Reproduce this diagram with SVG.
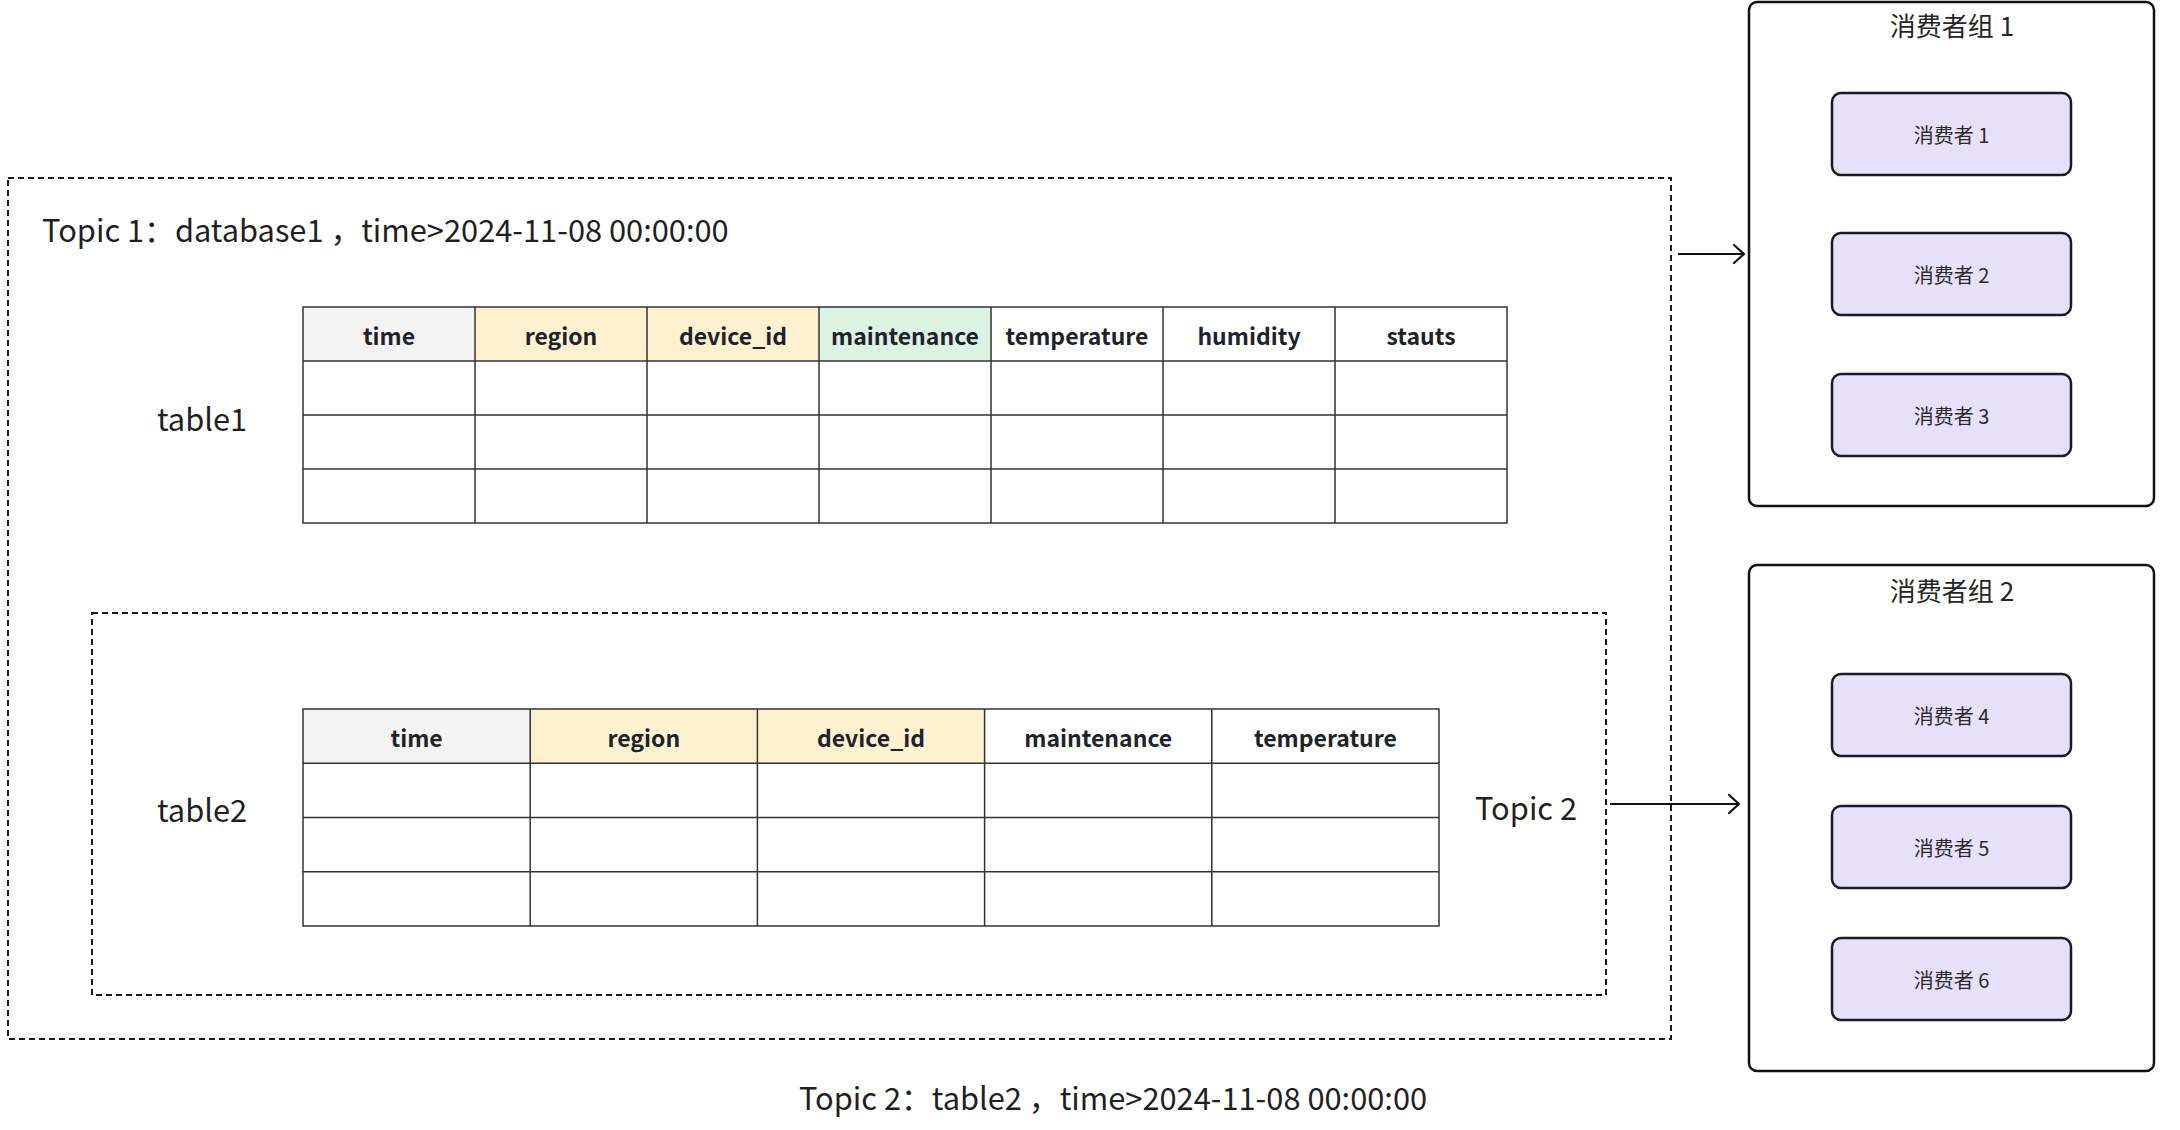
<svg xmlns="http://www.w3.org/2000/svg" width="2180" height="1130" viewBox="0 0 2180 1130">
<defs>
<marker id="arr" markerUnits="userSpaceOnUse" markerWidth="14" markerHeight="22" viewBox="0 0 14 22" refX="12" refY="11" orient="auto">
<path d="M2,2 L12,11 L2,20" fill="none" stroke="#111" stroke-width="2.2" stroke-linecap="round" stroke-linejoin="round"/>
</marker>
</defs>
<style>
text{font-family:"Noto Sans CJK SC","Noto Sans",sans-serif;fill:#1f1f1f}
.dash{fill:none;stroke:#1a1a1a;stroke-width:2;stroke-dasharray:6 4}
.lbl{font-size:30.8px}
.hd{font-size:23px;font-weight:700;text-anchor:middle;dominant-baseline:central;fill:#1f2329}
.grid{stroke:#333;stroke-width:1.5;fill:none}
.grp{fill:#fff;stroke:#111;stroke-width:2.5}
.cons{fill:#e6e0fb;stroke:#1a1a24;stroke-width:2.5}
.ct{font-size:20px;text-anchor:middle;dominant-baseline:central;fill:#2a2a2a}
.gt{font-size:26px;text-anchor:middle;dominant-baseline:central;fill:#262626}
.conn{stroke:#111;stroke-width:2;fill:none}
</style>

<g id="topic1">
<rect class="dash" x="8" y="178" width="1663" height="861"/>
<text class="lbl" x="42" y="242">Topic 1：database1 ，time&gt;2024-11-08 00:00:00</text>
</g>

<g id="table1">
<text class="lbl" x="202" y="417" text-anchor="middle" dominant-baseline="central">table1</text>
<rect x="303" y="307" width="172" height="54" fill="#f3f3f3"/>
<rect x="475" y="307" width="344" height="54" fill="#fdf1cf"/>
<rect x="819" y="307" width="172" height="54" fill="#dcf2e3"/>
<rect class="grid" x="303" y="307" width="1204" height="216"/>
<path class="grid" d="M303,361H1507M303,415H1507M303,469H1507M475,307V523M647,307V523M819,307V523M991,307V523M1163,307V523M1335,307V523"/>
<text class="hd" x="389" y="335">time</text>
<text class="hd" x="561" y="335">region</text>
<text class="hd" x="733" y="335">device_id</text>
<text class="hd" x="905" y="335">maintenance</text>
<text class="hd" x="1077" y="335">temperature</text>
<text class="hd" x="1249" y="335">humidity</text>
<text class="hd" x="1421" y="335">stauts</text>
</g>

<g id="topic2">
<rect class="dash" x="92" y="613" width="1514" height="382"/>
<text class="lbl" x="1526" y="806" text-anchor="middle" dominant-baseline="central">Topic 2</text>
<text class="lbl" x="1113" y="1096" text-anchor="middle" dominant-baseline="central">Topic 2：table2 ，time&gt;2024-11-08 00:00:00</text>
</g>

<g id="table2">
<text class="lbl" x="202" y="808" text-anchor="middle" dominant-baseline="central">table2</text>
<rect x="303" y="709" width="227.2" height="54.25" fill="#f3f3f3"/>
<rect x="530.2" y="709" width="454.4" height="54.25" fill="#fdf1cf"/>
<rect class="grid" x="303" y="709" width="1136" height="217"/>
<path class="grid" d="M303,763.25H1439M303,817.5H1439M303,871.75H1439M530.2,709V926M757.4,709V926M984.6,709V926M1211.8,709V926"/>
<text class="hd" x="416.6" y="737">time</text>
<text class="hd" x="643.8" y="737">region</text>
<text class="hd" x="871" y="737">device_id</text>
<text class="hd" x="1098.2" y="737">maintenance</text>
<text class="hd" x="1325.4" y="737">temperature</text>
</g>

<g id="group1">
<rect class="grp" x="1749" y="2" width="405" height="504" rx="8"/>
<text class="gt" x="1952" y="24">消费者组 1</text>
</g>
<g id="consumer1"><rect class="cons" x="1832" y="93" width="239" height="82" rx="9"/><text class="ct" x="1951.5" y="134">消费者 1</text></g>
<g id="consumer2"><rect class="cons" x="1832" y="233" width="239" height="82" rx="9"/><text class="ct" x="1951.5" y="274">消费者 2</text></g>
<g id="consumer3"><rect class="cons" x="1832" y="374" width="239" height="82" rx="9"/><text class="ct" x="1951.5" y="415">消费者 3</text></g>

<g id="group2">
<rect class="grp" x="1749" y="565" width="405" height="506" rx="8"/>
<text class="gt" x="1952" y="589">消费者组 2</text>
</g>
<g id="consumer4"><rect class="cons" x="1832" y="674" width="239" height="82" rx="9"/><text class="ct" x="1951.5" y="715">消费者 4</text></g>
<g id="consumer5"><rect class="cons" x="1832" y="806" width="239" height="82" rx="9"/><text class="ct" x="1951.5" y="847">消费者 5</text></g>
<g id="consumer6"><rect class="cons" x="1832" y="938" width="239" height="82" rx="9"/><text class="ct" x="1951.5" y="979">消费者 6</text></g>

<g id="connectors">
<line class="conn" x1="1678" y1="254" x2="1744" y2="254" marker-end="url(#arr)"/>
<line class="conn" x1="1610" y1="804" x2="1739" y2="804" marker-end="url(#arr)"/>
</g>
</svg>
